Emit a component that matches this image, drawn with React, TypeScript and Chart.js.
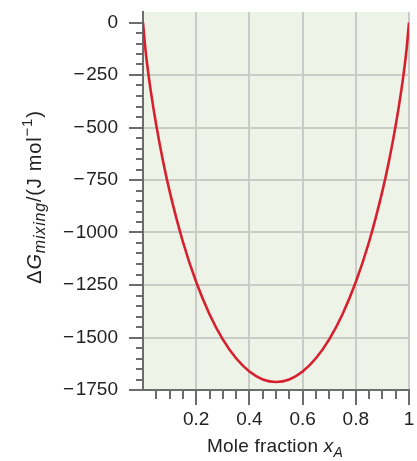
import React, { useEffect, useRef } from "react";
import { Chart, registerables } from "chart.js";

Chart.register(...registerables);

// Mole fraction of A (x) and Gibbs energy of mixing (J/mol)
const moleFractions = [0, 0.01, 0.02, 0.03, 0.05, 0.075, 0.1, 0.15, 0.2, 0.25, 0.3, 0.35, 0.4, 0.45, 0.5, 0.55, 0.6, 0.65, 0.7, 0.75, 0.8, 0.85, 0.9, 0.925, 0.95, 0.97, 0.98, 0.99, 1];
const deltaGMix = [0, -138, -242, -333, -490, -658, -803, -1044, -1236, -1389, -1509, -1599, -1662, -1700, -1712, -1700, -1662, -1599, -1509, -1389, -1236, -1044, -803, -658, -490, -333, -242, -138, 0];

const yMin = -1750;
const yMax = 50;
const yStep = 50;
const yMajor = 250;
const xMin = 0;
const xMax = 1;
const xStep = 0.05;

const FONT = "'Liberation Sans', Arial, Helvetica, sans-serif";
const AXIS = "#6c6c6c";
const GRID = "#c9cbc6";
const TEXT = "#222222";

type Seg = { t: string; italic?: boolean; shift?: number; scale?: number };

function drawRich(ctx: CanvasRenderingContext2D, segs: Seg[], size: number, spacing: number) {
  const fontOf = (s: Seg) => `${s.italic ? "italic " : ""}${Math.round(size * (s.scale || 1))}px ${FONT}`;
  (ctx as any).letterSpacing = spacing + "px";
  let total = 0;
  const widths = segs.map((s) => {
    ctx.font = fontOf(s);
    const w = ctx.measureText(s.t).width;
    total += w;
    return w;
  });
  let x = -total / 2;
  segs.forEach((s, i) => {
    ctx.font = fontOf(s);
    ctx.fillText(s.t, x, (s.shift || 0) * size);
    x += widths[i];
  });
  (ctx as any).letterSpacing = "0px";
}

const decorPlugin = {
  id: "decor",
  beforeDraw(chart: any) {
    const { ctx, chartArea } = chart;
    ctx.save();
    ctx.fillStyle = "#edf3e7";
    ctx.fillRect(chartArea.left, chartArea.top, chartArea.right - chartArea.left, chartArea.bottom - chartArea.top);
    ctx.restore();
  },
  afterDraw(chart: any) {
    const { ctx, chartArea } = chart;
    const xs = chart.scales.x;
    const ys = chart.scales.y;
    ctx.save();
    ctx.strokeStyle = AXIS;
    ctx.lineWidth = 2;
    ctx.lineCap = "butt";
    ys.ticks.forEach((t: any) => {
      if (t.value > 0) return;
      const py = Math.round(ys.getPixelForValue(t.value));
      const major = Math.round(t.value) % yMajor === 0;
      const len = major ? 14 : 7;
      ctx.beginPath();
      ctx.moveTo(chartArea.left - len, py);
      ctx.lineTo(chartArea.left, py);
      ctx.stroke();
    });
    xs.ticks.forEach((t: any) => {
      const k = Math.round(t.value * 20);
      if (k === 0) return;
      const px = Math.round(xs.getPixelForValue(t.value));
      const major = k % 4 === 0;
      const len = major ? 15 : 9;
      ctx.beginPath();
      ctx.moveTo(px, chartArea.bottom);
      ctx.lineTo(px, chartArea.bottom + len);
      ctx.stroke();
    });

    ctx.fillStyle = TEXT;
    ctx.textBaseline = "middle";
    ctx.textAlign = "left";
    // y title
    ctx.save();
    ctx.translate(35, 197);
    ctx.rotate(-Math.PI / 2);
    drawRich(
      ctx,
      [
        { t: "Δ" },
        { t: "G", italic: true },
        { t: "mixing", italic: true, shift: 0.3, scale: 0.8 },
        { t: "/(J mol" },
        { t: "−1", shift: -0.35, scale: 0.75 },
        { t: ")" },
      ],
      20,
      0.8
    );
    ctx.restore();
    // x title
    ctx.save();
    ctx.translate(275, 447);
    drawRich(
      ctx,
      [
        { t: "Mole fraction " },
        { t: "x", italic: true },
        { t: "A", italic: true, shift: 0.3, scale: 0.75 },
      ],
      19,
      0.2
    );
    ctx.restore();
    ctx.restore();
  },
};

function zeroPad(s: any) {
  s.paddingLeft = 0;
  s.paddingRight = 0;
  s.paddingTop = 0;
  s.paddingBottom = 0;
}

export default function App() {
  const ref = useRef<HTMLCanvasElement | null>(null);
  useEffect(() => {
    if (!ref.current) return;
    const chart = new Chart(ref.current, {
      type: "line",
      data: {
        datasets: [
          {
            data: moleFractions.map((x, i) => ({ x, y: deltaGMix[i] })),
            borderColor: "#d7202e",
            borderWidth: 2.6,
            pointRadius: 0,
            cubicInterpolationMode: "monotone",
            fill: false,
          },
        ],
      },
      options: {
        animation: false,
        responsive: false,
        maintainAspectRatio: false,
        layout: { padding: { left: 0, top: 12, right: 8, bottom: 0 } },
        plugins: { legend: { display: false }, tooltip: { enabled: false } },
        scales: {
          x: {
            type: "linear",
            min: xMin,
            max: xMax,
            afterFit: (s: any) => {
              s.height = 71;
              zeroPad(s);
            },
            ticks: {
              stepSize: xStep,
              autoSkip: false,
              maxRotation: 0,
              padding: 18,
              color: TEXT,
              font: { family: FONT, size: 19 },
              callback: (v: any) => {
                const k = Math.round(Number(v) * 20);
                if (k === 0 || k % 4 !== 0) return "";
                return k === 20 ? "1" : (k / 20).toFixed(1);
              },
            },
            grid: {
              drawTicks: false,
              lineWidth: 2,
              color: (c: any) => {
                const k = Math.round(c.tick.value * 20);
                return k > 0 && k % 4 === 0 ? GRID : "transparent";
              },
            },
            border: { display: true, color: AXIS, width: 2 },
          },
          y: {
            type: "linear",
            min: yMin,
            max: yMax,
            afterFit: (s: any) => {
              s.width = 143;
              zeroPad(s);
            },
            ticks: {
              stepSize: yStep,
              autoSkip: false,
              padding: 25,
              color: TEXT,
              font: { family: FONT, size: 19 },
              callback: (v: any) => {
                const n = Math.round(Number(v));
                if (n > 0 || n % yMajor !== 0) return "";
                return n < 0 ? "−\u200A" + Math.abs(n) : "0";
              },
            },
            grid: {
              drawTicks: false,
              lineWidth: 2,
              color: (c: any) => {
                const n = Math.round(c.tick.value);
                return n < 0 && n > yMin && n % yMajor === 0 ? GRID : "transparent";
              },
            },
            border: { display: true, color: AXIS, width: 2 },
          },
        },
      },
      plugins: [decorPlugin],
    } as any);
    return () => chart.destroy();
  }, []);
  return (
    <div style={{ position: "fixed", left: 0, top: 0, width: 417, height: 461 }}>
      <canvas ref={ref} width={417} height={461} style={{ width: 417, height: 461, display: "block" }} />
    </div>
  );
}
